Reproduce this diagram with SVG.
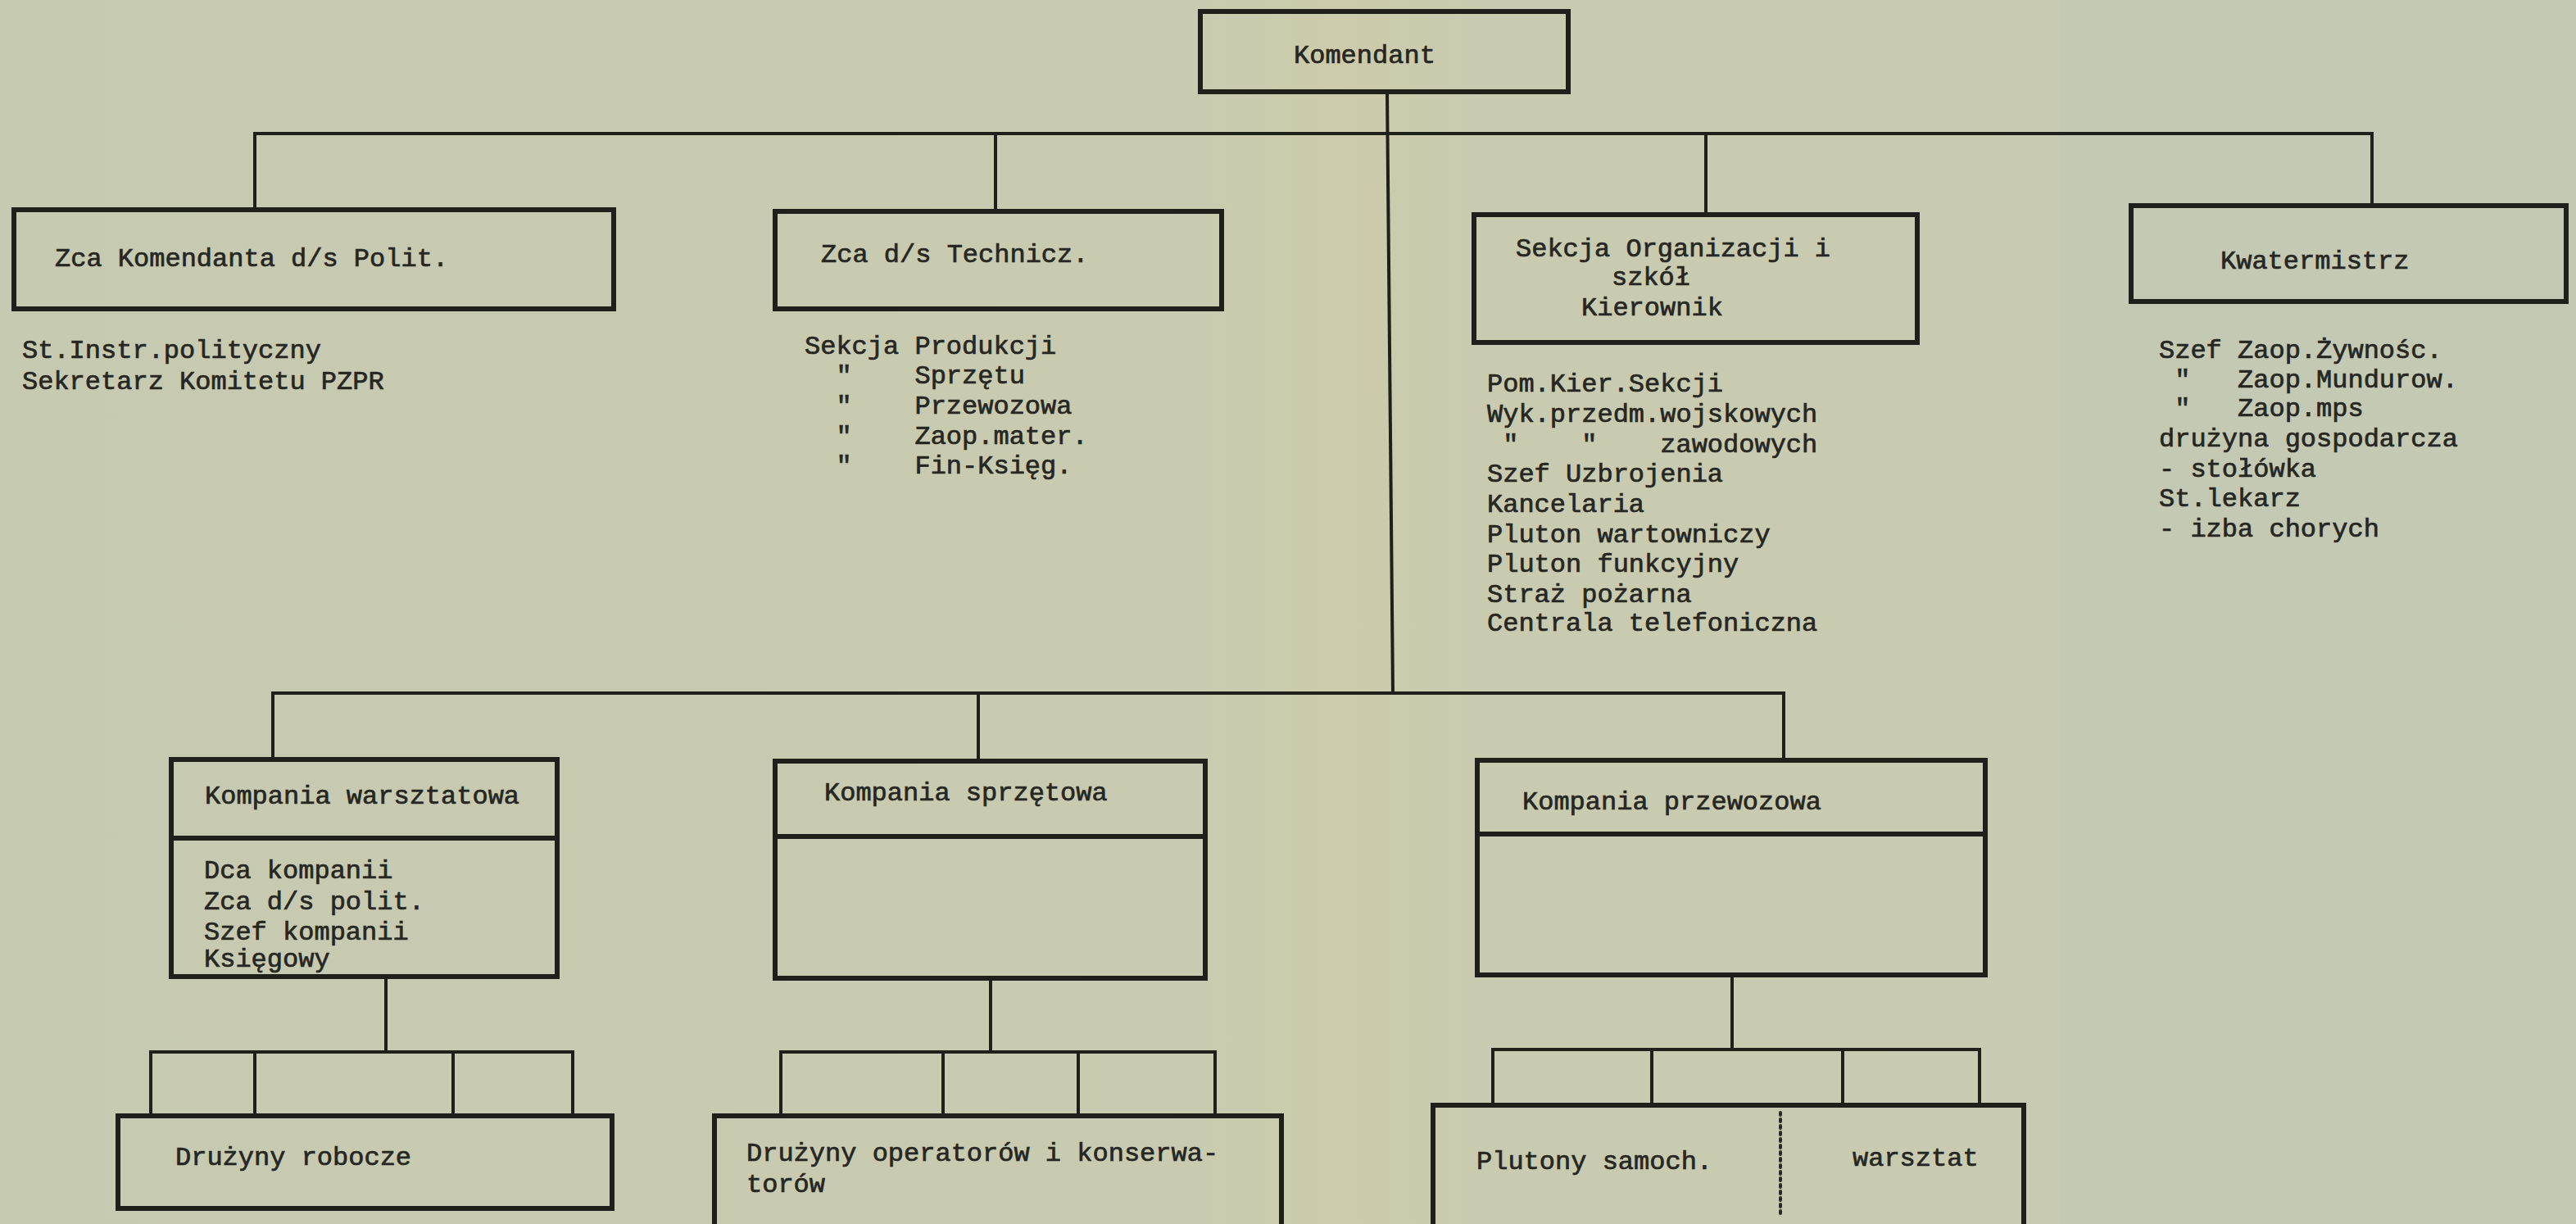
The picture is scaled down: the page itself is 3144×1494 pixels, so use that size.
<svg xmlns="http://www.w3.org/2000/svg" width="3144" height="1494" viewBox="0 0 3144 1494" xml:space="preserve">
<defs>
<style>
.box{fill:none;stroke:#1f1f1b;stroke-width:6;stroke-linejoin:miter}
.div{fill:none;stroke:#1f1f1b;stroke-width:6}
.conn{fill:none;stroke:#1f1f1b;stroke-width:4}
.t{font-family:"Liberation Mono","DejaVu Sans Mono",monospace;font-size:32px;fill:#262622;stroke:#262622;stroke-width:0.7;white-space:pre}
</style>
<linearGradient id="paper" x1="0" y1="0" x2="1" y2="0">
<stop offset="0" stop-color="#c6cab0"/>
<stop offset="0.46" stop-color="#c9cbb0"/>
<stop offset="0.52" stop-color="#cccbab"/>
<stop offset="0.58" stop-color="#c9cbb0"/>
<stop offset="0.799" stop-color="#c8cbb1"/>
<stop offset="0.80" stop-color="#c3c9b3"/>
<stop offset="1" stop-color="#c4c9b3"/>
</linearGradient>
</defs>
<rect x="0" y="0" width="3144" height="1494" fill="url(#paper)"/>

<g id="connectors">
<line class="conn" x1="1693" y1="112" x2="1700" y2="846"/>
<polyline class="conn" points="311,256 311,163 2895,163 2895,251"/>
<line class="conn" x1="1215" y1="163" x2="1215" y2="258"/>
<line class="conn" x1="2082" y1="163" x2="2082" y2="262"/>
<polyline class="conn" points="333,927 333,846 2177,846 2177,928"/>
<line class="conn" x1="1194" y1="846" x2="1194" y2="929"/>
<line class="conn" x1="471" y1="1192" x2="471" y2="1284"/>
<polyline class="conn" points="184,1362 184,1284 699,1284 699,1362"/>
<line class="conn" x1="311" y1="1284" x2="311" y2="1362"/>
<line class="conn" x1="553" y1="1284" x2="553" y2="1362"/>
<line class="conn" x1="1209" y1="1194" x2="1209" y2="1284"/>
<polyline class="conn" points="953,1362 953,1284 1483,1284 1483,1362"/>
<line class="conn" x1="1151" y1="1284" x2="1151" y2="1362"/>
<line class="conn" x1="1316" y1="1284" x2="1316" y2="1362"/>
<line class="conn" x1="2114" y1="1190" x2="2114" y2="1281"/>
<polyline class="conn" points="1822,1349 1822,1281 2416,1281 2416,1349"/>
<line class="conn" x1="2016" y1="1281" x2="2016" y2="1349"/>
<line class="conn" x1="2249" y1="1281" x2="2249" y2="1349"/>
</g>

<g id="komendant">
<rect class="box" x="1465" y="14" width="449" height="98"/>
<text class="t" x="1579" y="77">Komendant</text>
</g>

<g id="zca-polit">
<rect class="box" x="17" y="256" width="732" height="121"/>
<text class="t" x="67" y="325">Zca Komendanta d/s Polit.</text>
<text class="t" x="27" y="437">St.Instr.polityczny</text>
<text class="t" x="27" y="475">Sekretarz Komitetu PZPR</text>
</g>

<g id="zca-technicz">
<rect class="box" x="946" y="258" width="545" height="119"/>
<text class="t" x="1002" y="320">Zca d/s Technicz.</text>
<text class="t" x="982" y="432">Sekcja Produkcji</text>
<text class="t" x="982" y="468">  "    Sprzętu</text>
<text class="t" x="982" y="505">  "    Przewozowa</text>
<text class="t" x="982" y="542">  "    Zaop.mater.</text>
<text class="t" x="982" y="578">  "    Fin-Księg.</text>
</g>

<g id="sekcja-organizacji">
<rect class="box" x="1799" y="262" width="541" height="156"/>
<text class="t" x="1850" y="313">Sekcja Organizacji i</text>
<text class="t" x="1967" y="348">szkół</text>
<text class="t" x="1930" y="385">Kierownik</text>
<text class="t" x="1815" y="478">Pom.Kier.Sekcji</text>
<text class="t" x="1815" y="515">Wyk.przedm.wojskowych</text>
<text class="t" x="1815" y="552"> "    "    zawodowych</text>
<text class="t" x="1815" y="588">Szef Uzbrojenia</text>
<text class="t" x="1815" y="625">Kancelaria</text>
<text class="t" x="1815" y="662">Pluton wartowniczy</text>
<text class="t" x="1815" y="698">Pluton funkcyjny</text>
<text class="t" x="1815" y="735">Straż pożarna</text>
<text class="t" x="1815" y="770">Centrala telefoniczna</text>
</g>

<g id="kwatermistrz">
<rect class="box" x="2601" y="251" width="531" height="117"/>
<text class="t" x="2710" y="328">Kwatermistrz</text>
<text class="t" x="2635" y="437">Szef Zaop.Żywnośc.</text>
<text class="t" x="2635" y="473"> "   Zaop.Mundurow.</text>
<text class="t" x="2635" y="508"> "   Zaop.mps</text>
<text class="t" x="2635" y="545">drużyna gospodarcza</text>
<text class="t" x="2635" y="582">- stołówka</text>
<text class="t" x="2635" y="618">St.lekarz</text>
<text class="t" x="2635" y="655">- izba chorych</text>
</g>

<g id="kompania-warsztatowa">
<rect class="box" x="209" y="927" width="471" height="265"/>
<line class="div" x1="209" y1="1023" x2="680" y2="1023"/>
<text class="t" x="250" y="981">Kompania warsztatowa</text>
<text class="t" x="249" y="1072">Dca kompanii</text>
<text class="t" x="249" y="1110">Zca d/s polit.</text>
<text class="t" x="249" y="1147">Szef kompanii</text>
<text class="t" x="249" y="1180">Księgowy</text>
</g>

<g id="kompania-sprzetowa">
<rect class="box" x="946" y="929" width="525" height="265"/>
<line class="div" x1="946" y1="1021" x2="1471" y2="1021"/>
<text class="t" x="1006" y="977">Kompania sprzętowa</text>
</g>

<g id="kompania-przewozowa">
<rect class="box" x="1803" y="928" width="620" height="262"/>
<line class="div" x1="1803" y1="1018" x2="2423" y2="1018"/>
<text class="t" x="1858" y="988">Kompania przewozowa</text>
</g>

<g id="druzyny-robocze">
<rect class="box" x="144" y="1362" width="603" height="113"/>
<text class="t" x="214" y="1422">Drużyny robocze</text>
</g>

<g id="druzyny-operatorow">
<rect class="box" x="872" y="1362" width="692" height="150"/>
<text class="t" x="911" y="1417">Drużyny operatorów i konserwa-</text>
<text class="t" x="911" y="1455">torów</text>
</g>

<g id="plutony">
<rect class="box" x="1749" y="1349" width="721" height="160"/>
<line x1="2173" y1="1358" x2="2173" y2="1483" stroke="#2a2a25" stroke-width="4" stroke-dasharray="3 5" stroke-linecap="round"/>
<text class="t" x="1802" y="1427">Plutony samoch.</text>
<text class="t" x="2261" y="1423">warsztat</text>
</g>
</svg>
